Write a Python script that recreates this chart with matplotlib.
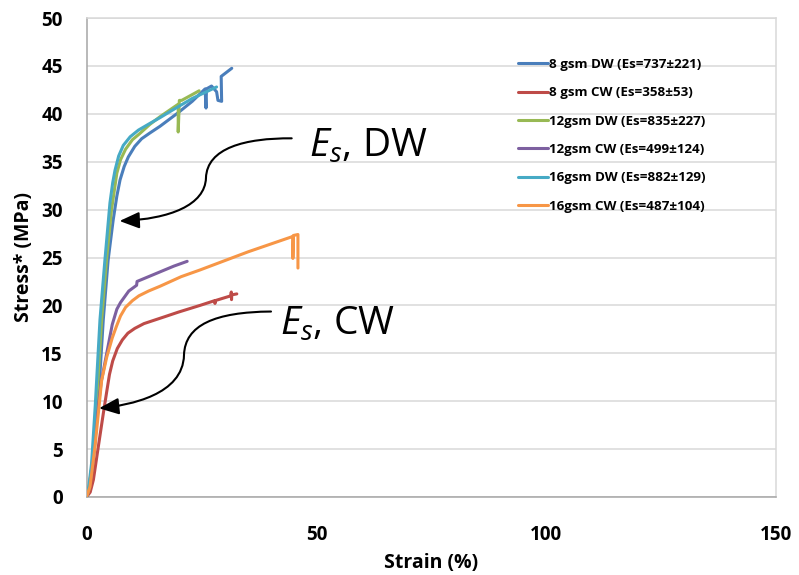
import matplotlib
matplotlib.use("Agg")
import matplotlib.pyplot as plt
from matplotlib.path import Path
from matplotlib.patches import FancyArrowPatch

plt.rcParams['font.family'] = ['Open Sans', 'DejaVu Sans']
plt.rcParams['mathtext.fontset'] = 'custom'
plt.rcParams['mathtext.it'] = 'Open Sans:italic'
plt.rcParams['mathtext.rm'] = 'Open Sans'

# ---------------- data (strain %, stress MPa) ----------------
labels = ["8 gsm DW (Es=737\u00b1221)", "8 gsm CW (Es=358\u00b153)",
          "12gsm DW (Es=835\u00b1227)", "12gsm CW (Es=499\u00b1124)",
          "16gsm DW (Es=882\u00b1129)", "16gsm CW (Es=487\u00b1104)"]
colors = ["#4A7EBB", "#BE4B48", "#98B954", "#7D60A0", "#46AAC5", "#F79646"]

dw8_x = [0, 0.5, 1.4, 2.6, 3.65, 4.7, 5.8, 6.6, 7.3, 8.2, 9.1, 10.5, 12.0, 13.8, 16.0,
         19.9, 23.0, 25.8, 26.0, 26.1, 27.2, 28.3, 28.6, 29.4, 29.3, 29.7, 31.6]
dw8_y = [0, 0.6, 3.2, 10.3, 18.5, 24.7, 28.9, 31.4, 33.1, 34.5, 35.5, 36.6, 37.4, 38.0, 38.7,
         40.1, 41.3, 42.6, 40.6, 42.6, 42.9, 42.3, 41.4, 41.3, 43.9, 44.05, 44.75]

cw8_x = [0, 0.8, 1.5, 2.57, 3.65, 4.4, 5.0, 5.7, 6.7, 7.8, 9.0, 10.5, 12.5, 16.9, 20.0,
         24.7, 27.9, 27.95, 28.0, 31.4, 31.5, 31.55, 31.6, 32.7]
cw8_y = [0, 0.5, 1.8, 5.25, 8.7, 11.0, 12.8, 14.2, 15.5, 16.4, 17.1, 17.6, 18.1, 18.8, 19.3,
         20.0, 20.5, 20.2, 20.5, 21.0, 21.4, 20.6, 21.1, 21.2]

dw12_x = [0, 0.45, 1.2, 2.2, 3.3, 4.35, 5.45, 6.6, 7.4, 8.5, 10.0, 11.5, 13.8, 16.0,
          19.95, 19.95, 20.2, 20.7, 24.5]
dw12_y = [0, 0.65, 3.3, 9.8, 18.5, 24.7, 30.0, 33.8, 35.2, 36.3, 37.3, 37.9, 38.9, 39.7,
          41.0, 38.1, 41.4, 41.4, 42.4]

cw12_x = [0, 0.6, 1.6, 2.4, 3.2, 4.4, 5.6, 6.6, 7.4, 9.2, 10.9, 11.0, 13.5, 16.0, 19.0, 21.9]
cw12_y = [0, 1.0, 4.8, 8.8, 12.0, 15.0, 18.0, 19.6, 20.3, 21.5, 22.1, 22.5, 23.0, 23.5,
          24.1, 24.6]

dw16_x = [0, 0.4, 1.1, 1.9, 2.93, 4.0, 5.1, 5.7, 6.2, 7.0, 8.0, 9.5, 11.3, 13.8, 16.0,
          18.4, 23.0, 28.3]
dw16_y = [0, 0.7, 3.5, 9.5, 18.5, 24.7, 30.7, 32.8, 34.1, 35.6, 36.7, 37.6, 38.3, 39.0,
          39.6, 40.3, 41.6, 42.8]

cw16_x = [0, 0.76, 1.85, 2.57, 3.3, 4.4, 5.6, 6.5, 7.4, 8.5, 10.0, 11.4, 13.5, 16.0, 20.6,
          24.7, 35.2, 44.9, 44.9, 45.0, 46.0, 46.0]
cw16_y = [0, 1.07, 5.25, 8.7, 12.2, 14.6, 16.6, 17.8, 18.9, 19.8, 20.5, 21.0, 21.5, 22.0,
          23.0, 23.7, 25.6, 27.2, 24.9, 27.3, 27.4, 23.9]

series_x = [dw8_x, cw8_x, dw12_x, cw12_x, dw16_x, cw16_x]
series_y = [dw8_y, cw8_y, dw12_y, cw12_y, dw16_y, cw16_y]

x_ticks = [0, 50, 100, 150]
y_ticks = [0, 5, 10, 15, 20, 25, 30, 35, 40, 45, 50]

# ---------------- figure ----------------
fig = plt.figure(figsize=(7.99, 5.75), dpi=100)
ax = fig.add_axes([86.5 / 799, 78 / 575, (776 - 86.5) / 799, (497 - 18) / 575])

for xs, ys, c, lab in zip(series_x, series_y, colors, labels):
    ax.plot(xs, ys, color=c, lw=2.2, label=lab, solid_joinstyle='round',
            solid_capstyle='round', zorder=3)

ax.set_xlim(0, 150)
ax.set_ylim(0, 50)
ax.set_xticks(x_ticks)
ax.set_yticks(y_ticks)
ax.set_xticklabels([str(v) for v in x_ticks], fontsize=13.6, fontweight='bold')
ax.set_yticklabels([str(v) for v in y_ticks], fontsize=13.6, fontweight='bold')
ax.tick_params(axis='both', length=0)
ax.tick_params(axis='x', pad=20)
ax.tick_params(axis='y', pad=17)

ax.yaxis.grid(True, color='#D9D9D9', lw=1.1, zorder=0)
ax.set_axisbelow(True)
for s in ['top', 'right']:
    ax.spines[s].set_color('#D9D9D9')
    ax.spines[s].set_linewidth(1.1)
for s in ['left', 'bottom']:
    ax.spines[s].set_color('#A6A6A6')
    ax.spines[s].set_linewidth(1.1)

ax.set_xlabel('Strain (%)', fontsize=14, fontweight='bold')
ax.set_ylabel('Stress* (MPa)', fontsize=14, fontweight='bold')
ax.xaxis.label.set_va('center')
ax.yaxis.label.set_va('center')
ax.xaxis.set_label_coords(0.5, -0.138)
ax.yaxis.set_label_coords(-0.0906, 0.5)

leg = ax.legend(loc='upper left', bbox_to_anchor=(518 / 799, 1 - 58 / 575),
                bbox_transform=fig.transFigure, frameon=False,
                prop={'family': 'Open Sans', 'weight': 'bold', 'size': 9.6},
                handlelength=2.25, handletextpad=0.05, labelspacing=1.15,
                borderpad=0, borderaxespad=0)

# ---------------- annotations ----------------
ax.text(48.4, 35.5, r'$E_{s}$, DW', fontsize=28, va='baseline', ha='left')
ax.text(42.0, 16.9, r'$E_{s}$, CW', fontsize=28, va='baseline', ha='left')

codes = [Path.MOVETO, Path.CURVE4, Path.CURVE4, Path.CURVE4,
         Path.CURVE4, Path.CURVE4, Path.CURVE4]
dw_path = Path([(44.64, 37.44), (34.48, 37.47), (26.21, 36.43), (25.99, 33.30),
                (25.78, 30.48), (18.16, 29.02), (7.18, 28.81)], codes)
cw_path = Path([(40.14, 19.36), (27.95, 19.31), (21.43, 17.95), (21.21, 14.82),
                (20.99, 10.65), (9.46, 9.60), (2.72, 9.26)], codes)
for p in (dw_path, cw_path):
    arr = FancyArrowPatch(path=p, arrowstyle='-|>,head_length=1.2,head_width=0.5',
                          mutation_scale=10, color='black', lw=1.5,
                          transform=ax.transData, zorder=5, clip_on=False)
    ax.add_patch(arr)

fig.savefig('out.png', dpi=100)
